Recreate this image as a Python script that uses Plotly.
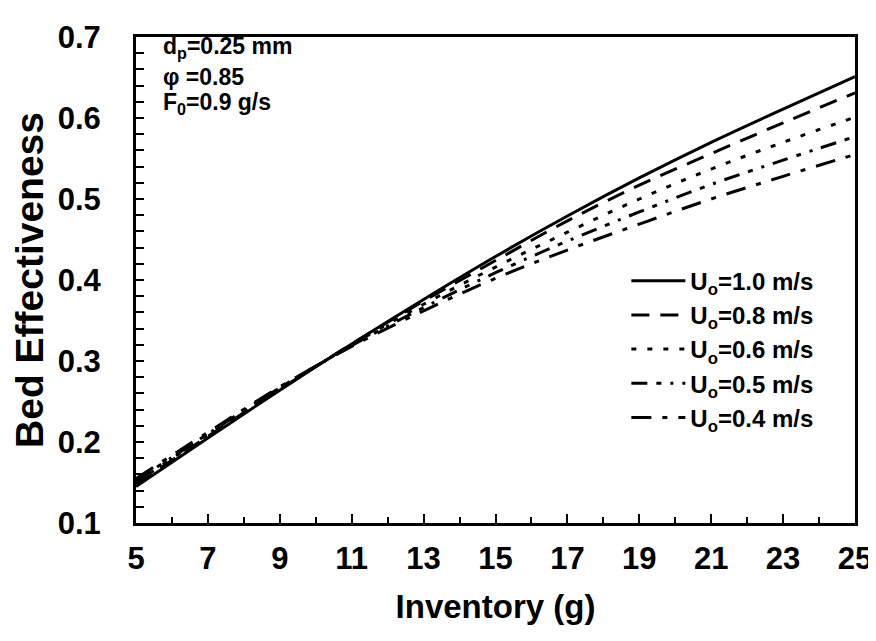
import plotly.graph_objects as go

inventory = [5, 7, 9, 11, 13, 15, 17, 19, 21, 23, 25]
u10 = [0.145, 0.205, 0.264, 0.321, 0.376, 0.429, 0.479, 0.526, 0.570, 0.611, 0.651]
u08 = [0.148, 0.207, 0.265, 0.321, 0.374, 0.424, 0.473, 0.517, 0.556, 0.594, 0.631]
u06 = [0.150, 0.209, 0.266, 0.320, 0.370, 0.416, 0.459, 0.500, 0.537, 0.570, 0.601]
u05 = [0.152, 0.210, 0.267, 0.319, 0.366, 0.409, 0.448, 0.484, 0.518, 0.548, 0.577]
u04 = [0.155, 0.212, 0.268, 0.318, 0.362, 0.402, 0.437, 0.469, 0.500, 0.528, 0.555]

series = [
    ("U<sub>o</sub>=1.0 m/s", u10, "solid"),
    ("U<sub>o</sub>=0.8 m/s", u08, "18px,11px"),
    ("U<sub>o</sub>=0.6 m/s", u06, "5px,11px"),
    ("U<sub>o</sub>=0.5 m/s", u05, "16px,9px,5px,9px,3px,9px"),
    ("U<sub>o</sub>=0.4 m/s", u04, "20px,11px,5px,11px"),
]

FONT = "Liberation Sans, Arial, sans-serif"

fig = go.Figure()
for i, (name, ys, dash) in enumerate(series):
    fig.add_trace(go.Scatter(
        x=inventory, y=ys, mode="lines", name=name,
        line=dict(color="black", width=3, dash=dash, shape="spline"),
        legendgroup=f"g{i}",
    ))

fig.update_layout(
    width=876, height=641,
    margin=dict(l=128, r=22, t=19, b=126),
    paper_bgcolor="white", plot_bgcolor="white",
    font=dict(family=FONT, color="black", size=22),
    showlegend=True,
    legend=dict(
        x=0.682, y=0.544, xanchor="left", yanchor="top",
        bgcolor="rgba(0,0,0,0)", tracegroupgap=0, itemwidth=54,
        font=dict(family=FONT, size=24, color="black", weight="bold"),
    ),
    xaxis=dict(
        range=[5, 25], dtick=2, tick0=5,
        showline=True, linecolor="black", linewidth=3, mirror=True,
        ticks="inside", ticklen=9, tickwidth=2, tickcolor="black",
        minor=dict(dtick=1, ticks="inside", ticklen=6, tickwidth=2, tickcolor="black"),
        showgrid=False, zeroline=False,
        tickfont=dict(family=FONT, size=31, color="black", weight="bold"),
        ticklabelstandoff=6,
        title=dict(text="Inventory (g)", standoff=20,
                   font=dict(family=FONT, size=33, color="black", weight="bold")),
    ),
    yaxis=dict(
        range=[0.1, 0.7], dtick=0.1, tick0=0.1, tickformat=".1f",
        showline=True, linecolor="black", linewidth=3, mirror=True,
        ticks="inside", ticklen=8, tickwidth=2, tickcolor="black",
        minor=dict(dtick=0.02, ticks="inside", ticklen=8, tickwidth=2, tickcolor="black"),
        showgrid=False, zeroline=False,
        tickfont=dict(family=FONT, size=31, color="black", weight="bold"),
        ticklabelstandoff=26,
        title=dict(text="Bed Effectiveness", standoff=10,
                   font=dict(family=FONT, size=39, color="black", weight="bold")),
    ),
)

notes = ["d<sub>p</sub>=0.25 mm", "φ =0.85", "F<sub>0</sub>=0.9 g/s"]
note_y = [0.978, 0.918, 0.864]
for t, yy in zip(notes, note_y):
    fig.add_annotation(
        text=t, xref="paper", yref="paper", x=0.035, y=yy,
        xanchor="left", yanchor="middle", showarrow=False,
        font=dict(family=FONT, size=23, color="black", weight="bold"),
    )

fig.write_html("out.html")
